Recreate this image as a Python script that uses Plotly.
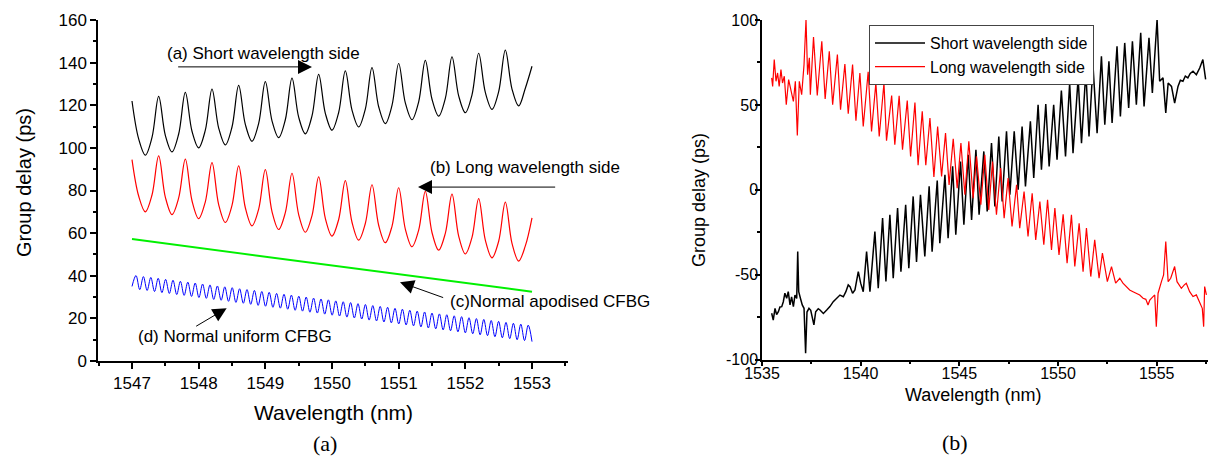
import plotly.graph_objects as go

# ---------------- Panel (a) data ----------------
wl_a = [1547.0, 1547.1, 1547.2, 1547.3, 1547.4, 1547.5, 1547.6, 1547.7, 1547.8, 1547.9,
        1548.0, 1548.1, 1548.2, 1548.3, 1548.4, 1548.5, 1548.6, 1548.7, 1548.8, 1548.9,
        1549.0, 1549.1, 1549.2, 1549.3, 1549.4, 1549.5, 1549.6, 1549.7, 1549.8, 1549.9,
        1550.0, 1550.1, 1550.2, 1550.3, 1550.4, 1550.5, 1550.6, 1550.7, 1550.8, 1550.9,
        1551.0, 1551.1, 1551.2, 1551.3, 1551.4, 1551.5, 1551.6, 1551.7, 1551.8, 1551.9,
        1552.0, 1552.1, 1552.2, 1552.3, 1552.4, 1552.5, 1552.6, 1552.7, 1552.8, 1552.9,
        1553.0]

short_a = [122.0, 104.2, 96.6, 104.9, 124.2, 105.9, 98.1, 106.5, 126.0, 107.8,
           100.0, 108.3, 127.6, 109.3, 101.4, 109.8, 129.3, 111.0, 103.1, 111.5,
           131.1, 112.7, 104.8, 113.2, 132.7, 114.4, 106.6, 115.0, 134.5, 116.2,
           108.3, 116.6, 136.1, 117.7, 109.8, 118.2, 137.7, 119.3, 111.4, 119.9,
           139.6, 121.1, 113.2, 121.6, 141.1, 122.8, 114.9, 123.2, 142.7, 124.4,
           116.5, 124.9, 144.4, 126.0, 118.1, 126.4, 145.9, 127.6, 119.7, 128.0,
           138.3]

long_a = [94.5, 77.4, 70.0, 77.9, 96.2, 76.9, 68.7, 76.5, 94.7, 75.2,
          66.8, 74.7, 93.1, 73.4, 65.0, 73.0, 91.6, 71.9, 63.4, 71.3,
          89.8, 70.1, 61.7, 69.6, 88.1, 68.7, 60.4, 68.2, 86.4, 66.9,
          58.6, 66.4, 84.6, 65.1, 56.7, 64.5, 82.7, 63.7, 55.5, 63.2,
          81.3, 61.9, 53.6, 61.4, 79.6, 60.3, 52.0, 59.9, 78.3, 58.6,
          50.2, 58.0, 76.2, 56.7, 48.4, 56.2, 74.5, 55.2, 46.9, 54.0,
          67.2]

apod_nm = [1547.0, 1553.0]
apod_ps = [57.2, 32.5]

uni_nm = [1547.0, 1547.060, 1547.116, 1547.171, 1547.227, 1547.282, 1547.338, 1547.393, 1547.449,
          1547.504, 1547.560, 1547.615, 1547.671, 1547.726, 1547.782, 1547.837, 1547.893,
          1547.948, 1548.004, 1548.059, 1548.115, 1548.170, 1548.226, 1548.281, 1548.337,
          1548.392, 1548.448, 1548.503, 1548.559, 1548.614, 1548.670, 1548.725, 1548.781,
          1548.836, 1548.892, 1548.947, 1549.003, 1549.058, 1549.114, 1549.169, 1549.225,
          1549.280, 1549.336, 1549.391, 1549.447, 1549.502, 1549.558, 1549.613, 1549.669,
          1549.724, 1549.780, 1549.835, 1549.891, 1549.946, 1550.002, 1550.057, 1550.113,
          1550.168, 1550.224, 1550.279, 1550.335, 1550.390, 1550.446, 1550.501, 1550.557,
          1550.612, 1550.668, 1550.723, 1550.779, 1550.834, 1550.890, 1550.945, 1551.001,
          1551.056, 1551.112, 1551.167, 1551.223, 1551.278, 1551.334, 1551.389, 1551.445,
          1551.500, 1551.556, 1551.611, 1551.667, 1551.722, 1551.778, 1551.833, 1551.889,
          1551.944, 1552.000, 1552.055, 1552.111, 1552.166, 1552.222, 1552.277, 1552.333,
          1552.388, 1552.444, 1552.499, 1552.555, 1552.610, 1552.666, 1552.721, 1552.777,
          1552.832, 1552.888, 1552.943, 1553.000]
uni_ps = [35.0, 40.1, 33.5, 39.6, 33.1, 39.2, 32.6, 38.8, 32.1,
          38.3, 31.7, 37.9, 31.2, 37.4, 30.8, 37.0, 30.3,
          36.6, 29.8, 36.1, 29.4, 35.7, 28.9, 35.2, 28.5,
          34.8, 28.0, 34.4, 27.5, 33.9, 27.1, 33.5, 26.6,
          33.1, 26.1, 32.6, 25.7, 32.2, 25.2, 31.7, 24.8,
          31.3, 24.3, 30.9, 23.8, 30.4, 23.4, 30.0, 22.9,
          29.5, 22.5, 29.1, 22.0, 28.7, 21.5, 28.2, 21.1,
          27.8, 20.6, 27.4, 20.2, 26.9, 19.7, 26.5, 19.2,
          26.0, 18.8, 25.6, 18.3, 25.2, 17.9, 24.7, 17.4,
          24.3, 16.9, 23.8, 16.5, 23.4, 16.0, 23.0, 15.5,
          22.5, 15.1, 22.1, 14.6, 21.7, 14.2, 21.2, 13.7,
          20.8, 13.2, 20.3, 12.8, 19.9, 12.3, 19.5, 11.9,
          19.0, 11.4, 18.6, 10.9, 18.1, 10.5, 17.7, 10.0,
          17.3, 9.6, 16.8, 9.1]

# ---------------- Panel (b) data ----------------
short_b_nm = [1535.49, 1535.57, 1535.66, 1535.74, 1535.83, 1535.91, 1536.00, 1536.08, 1536.16, 1536.25,
              1536.33, 1536.42, 1536.50, 1536.59, 1536.67, 1536.76, 1536.81, 1536.86, 1536.95, 1537.04,
              1537.13, 1537.21, 1537.28, 1537.38, 1537.47, 1537.55, 1537.63, 1537.72, 1537.85, 1537.94,
              1538.11, 1538.28, 1538.44, 1538.61, 1538.78, 1538.95, 1539.12, 1539.25, 1539.37, 1539.46,
              1539.59, 1539.71, 1539.88, 1540.00, 1540.13, 1540.30, 1540.47, 1540.72, 1540.89, 1541.11,
              1541.28, 1541.48, 1541.65, 1541.87, 1542.04, 1542.28, 1542.44, 1542.66, 1542.83, 1543.03,
              1543.25, 1543.47, 1543.62, 1543.88, 1544.01, 1544.27, 1544.43, 1544.66, 1544.82, 1545.06,
              1545.23, 1545.45, 1545.62, 1545.84, 1546.00, 1546.24, 1546.41, 1546.63, 1546.80, 1547.00,
              1547.17, 1547.39, 1547.56, 1547.78, 1547.98, 1548.18, 1548.35, 1548.60, 1548.77, 1548.99,
              1549.16, 1549.38, 1549.55, 1549.78, 1549.95, 1550.17, 1550.38, 1550.59, 1550.76, 1551.02,
              1551.19, 1551.41, 1551.57, 1551.77, 1551.98, 1552.20, 1552.37, 1552.58, 1552.74, 1552.99,
              1553.16, 1553.38, 1553.58, 1553.77, 1553.97, 1554.19, 1554.36, 1554.61, 1554.78, 1555.02,
              1555.15, 1555.32, 1555.46, 1555.58, 1555.75, 1555.91, 1556.08, 1556.20, 1556.33, 1556.45,
              1556.58, 1556.70, 1556.84, 1557.01, 1557.18, 1557.34, 1557.42, 1557.48]
short_b_ps = [-72.7, -76.7, -69.8, -73.5, -71.8, -69.0, -68.8, -65.9, -60.9, -63.9,
              -60.0, -67.8, -63.0, -68.8, -62.0, -64.0, -36.4, -60.0, -64.0, -67.8,
              -69.8, -96.3, -72.0, -69.8, -71.0, -74.7, -79.6, -71.8, -70.0, -70.8,
              -72.8, -70.8, -68.8, -65.9, -63.9, -62.0, -63.0, -60.0, -56.0, -57.0,
              -60.9, -59.0, -48.2, -55.0, -60.0, -36.4, -60.0, -24.6, -58.0, -16.7,
              -54.0, -14.7, -52.0, -10.8, -48.2, -8.8, -46.2, -3.9, -42.5, -2.9,
              -39.3, 2.0, -36.4, 5.5, -31.5, 8.8, -28.5, 13.8, -26.5, 16.7,
              -20.6, 20.6, -17.7, 23.6, -14.7, 22.6, -12.8, 27.5, -9.8, 31.4,
              -6.9, 34.4, -2.9, 34.4, 0.0, 37.3, 2.0, 40.3, 6.9, 50.1,
              11.8, 50.5, 13.8, 50.1, 17.7, 58.4, 19.7, 62.9, 21.6, 65.9,
              27.5, 69.8, 31.4, 73.7, 33.4, 78.6, 38.3, 75.7, 39.3, 84.5,
              43.2, 86.5, 48.2, 87.5, 50.1, 92.4, 49.1, 89.5, 57.0, 100.3,
              63.9, 65.9, 45.2, 62.9, 60.9, 51.1, 60.9, 64.5, 63.9, 67.0,
              65.9, 68.5, 69.8, 67.8, 71.7, 76.7, 70.0, 65.0]

long_b_nm = [1535.49, 1535.54, 1535.62, 1535.71, 1535.79, 1535.87, 1535.96, 1536.04, 1536.13, 1536.23,
             1536.35, 1536.47, 1536.59, 1536.69, 1536.79, 1536.89, 1537.01, 1537.13, 1537.23, 1537.31,
             1537.40, 1537.45, 1537.61, 1537.80, 1538.03, 1538.20, 1538.41, 1538.58, 1538.82, 1538.98,
             1539.20, 1539.37, 1539.59, 1539.76, 1539.96, 1540.13, 1540.38, 1540.55, 1540.77, 1540.94,
             1541.18, 1541.31, 1541.57, 1541.73, 1541.95, 1542.12, 1542.36, 1542.53, 1542.75, 1542.91,
             1543.12, 1543.30, 1543.51, 1543.71, 1543.90, 1544.10, 1544.30, 1544.48, 1544.69, 1544.89,
             1545.08, 1545.28, 1545.48, 1545.70, 1545.87, 1546.09, 1546.29, 1546.49, 1546.68, 1546.88,
             1547.09, 1547.27, 1547.47, 1547.67, 1547.90, 1548.06, 1548.28, 1548.48, 1548.69, 1548.87,
             1549.08, 1549.28, 1549.47, 1549.67, 1549.84, 1550.05, 1550.26, 1550.46, 1550.68, 1550.85,
             1551.07, 1551.27, 1551.44, 1551.66, 1551.86, 1552.08, 1552.25, 1552.50, 1552.71, 1552.92,
             1553.13, 1553.29, 1553.45, 1553.63, 1553.80, 1553.97, 1554.14, 1554.31, 1554.45, 1554.56,
             1554.65, 1554.73, 1554.90, 1554.98, 1555.07, 1555.24, 1555.35, 1555.46, 1555.58, 1555.71,
             1555.91, 1556.03, 1556.25, 1556.40, 1556.50, 1556.67, 1556.84, 1557.01, 1557.18, 1557.31,
             1557.38, 1557.43, 1557.52]
long_b_ps = [65.9, 60.9, 76.7, 63.9, 68.8, 60.9, 70.8, 62.9, 66.9, 50.1,
             64.9, 59.0, 52.1, 63.9, 32.0, 63.9, 56.0, 73.7, 100.3, 67.8,
             77.7, 56.0, 90.0, 55.5, 87.5, 53.5, 81.6, 50.1, 79.6, 47.2,
             74.1, 44.8, 73.7, 40.7, 68.8, 37.3, 69.5, 34.4, 62.9, 31.4,
             62.9, 28.9, 55.5, 26.5, 55.3, 23.6, 52.5, 19.7, 51.4, 14.5,
             46.2, 14.5, 42.3, 7.5, 37.3, 7.9, 33.4, 2.9, 30.1, 1.0,
             27.5, -2.9, 28.5, -4.9, 19.7, -8.8, 20.6, -11.8, 16.7, -14.7,
             12.8, -16.7, 6.9, -21.6, 2.9, -22.6, -1.0, -27.5, -2.0, -29.5,
             -6.9, -32.4, -5.9, -35.4, -10.8, -38.3, -14.5, -43.2, -14.7, -45.2,
             -19.7, -48.2, -22.6, -51.1, -29.5, -52.1, -37.3, -54.1, -45.2, -55.0,
             -52.1, -55.0, -57.0, -59.0, -60.0, -60.9, -62.0, -63.9, -64.5, -67.8,
             -65.0, -63.9, -61.9, -80.6, -60.9, -54.1, -50.1, -30.5, -54.1, -52.1,
             -45.2, -54.1, -58.0, -56.0, -55.0, -60.0, -62.9, -61.9, -65.9, -69.8,
             -80.6, -57.0, -61.9]

legend_names = ["Short wavelength side", "Long wavelength side"]

# tick labels of panel (b) y axis (plain hyphen-minus as in the original)
b_ytick_vals = [-100, -50, 0, 50, 100]
b_ytick_text = ["-100", "-50", "0", "50", "100"]

# ---------------- Figure ----------------
FONT = "Liberation Sans, Arial, sans-serif"
SERIF = "Liberation Serif, Times New Roman, serif"

fig = go.Figure()

# Panel (a)
fig.add_trace(go.Scatter(x=wl_a, y=short_a, mode="lines", line=dict(color="black", width=1.2, shape="spline"),
                         xaxis="x", yaxis="y", showlegend=False))
fig.add_trace(go.Scatter(x=wl_a, y=long_a, mode="lines", line=dict(color="#ff0000", width=1.2, shape="spline"),
                         xaxis="x", yaxis="y", showlegend=False))
fig.add_trace(go.Scatter(x=apod_nm, y=apod_ps, mode="lines", line=dict(color="#00f000", width=2),
                         xaxis="x", yaxis="y", showlegend=False))
fig.add_trace(go.Scatter(x=uni_nm, y=uni_ps, mode="lines", line=dict(color="#0000ff", width=1, shape="spline"),
                         xaxis="x", yaxis="y", showlegend=False))

# Panel (b)
fig.add_trace(go.Scatter(x=short_b_nm, y=short_b_ps, mode="lines", name=legend_names[0],
                         line=dict(color="black", width=1.5), xaxis="x2", yaxis="y2"))
fig.add_trace(go.Scatter(x=long_b_nm, y=long_b_ps, mode="lines", name=legend_names[1],
                         line=dict(color="#ff0000", width=1.2), xaxis="x2", yaxis="y2"))

axis_common = dict(showline=True, linecolor="black", linewidth=1.5, ticks="outside", ticklen=6,
                   tickwidth=1.5, tickcolor="black", showgrid=False, zeroline=False, automargin=False,
                   tickfont=dict(family=FONT, size=17, color="black"))

fig.update_layout(
    template="none",
    width=1212, height=460, margin=dict(l=0, r=0, t=0, b=0, pad=0, autoexpand=False),
    paper_bgcolor="white", plot_bgcolor="white",
    font=dict(family=FONT, color="black"),
    xaxis=dict(axis_common, domain=[98 / 1212, 568 / 1212], range=[1546.49, 1553.54],
               dtick=1, tick0=1547, anchor="y",
               minor=dict(ticks="outside", dtick=0.5, tick0=1546.5, ticklen=3, tickwidth=1.5, tickcolor="black")),
    yaxis=dict(axis_common, domain=[1 - 361 / 460, 1 - 20 / 460], range=[0, 160], dtick=20, anchor="x",
               minor=dict(ticks="outside", dtick=10, ticklen=3, tickwidth=1.5, tickcolor="black")),
    xaxis2=dict(axis_common, domain=[762 / 1212, 1208 / 1212], range=[1535, 1557.6], dtick=5, tick0=1535,
                anchor="y2", tickfont=dict(family=FONT, size=16, color="black"), ticklen=5,
                ticklabelstandoff=-7,
                minor=dict(ticks="outside", dtick=2.5, tick0=1535, ticklen=3, tickwidth=1.5, tickcolor="black")),
    yaxis2=dict(axis_common, domain=[1 - 359.6 / 460, 1 - 20 / 460], range=[-100, 100], anchor="x2",
                tickmode="array", tickvals=b_ytick_vals, ticktext=b_ytick_text,
                tickfont=dict(family=FONT, size=16, color="black"), ticklen=5, ticklabelstandoff=-6,
                minor=dict(ticks="outside", dtick=25, tick0=0, ticklen=3, tickwidth=1.5, tickcolor="black")),
    legend=dict(x=869 / 1212, y=1 - 25 / 460, xanchor="left", yanchor="top",
                bordercolor="#444444", borderwidth=1, bgcolor="white", itemwidth=50,
                font=dict(family=FONT, size=16, color="black"), tracegroupgap=0),
)

ann = []
ctr = dict(xanchor="center", yanchor="middle", xref="paper", yref="paper", showarrow=False)
# axis titles
ann.append(dict(ctr, text="Group delay (ps)", x=24 / 1212, y=1 - 183 / 460,
                textangle=-90, font=dict(family=FONT, size=20)))
ann.append(dict(ctr, text="Wavelength (nm)", x=333 / 1212, y=1 - 412 / 460,
                font=dict(family=FONT, size=21)))
ann.append(dict(ctr, text="Group delay (ps)", x=699 / 1212, y=1 - 200 / 460,
                textangle=-90, font=dict(family=FONT, size=18)))
ann.append(dict(ctr, text="Wavelength (nm)", x=973 / 1212, y=1 - 395 / 460,
                font=dict(family=FONT, size=18)))
# panel labels
ann.append(dict(ctr, text="(a)", x=325 / 1212, y=1 - 443 / 460, font=dict(family=SERIF, size=22)))
ann.append(dict(ctr, text="(b)", x=955 / 1212, y=1 - 442 / 460, font=dict(family=SERIF, size=22)))

# panel (a) labels
lab_font = dict(family=FONT, size=17, color="black")
lab = dict(xref="x", yref="y", xanchor="left", yanchor="middle", showarrow=False, font=lab_font)
ann.append(dict(lab, text="(a) Short wavelength side", x=1547.49, y=144.4))
ann.append(dict(lab, text="(b) Long wavelength side", x=1551.44, y=91.0))
ann.append(dict(lab, text="(c)Normal apodised CFBG", x=1551.74, y=27.7))
ann.append(dict(lab, text="(d) Normal uniform CFBG", x=1547.06, y=11.3))
# arrows (head at x,y; tail at ax,ay)
arrows = [((1549.70, 138.0), (1547.67, 138.0)),
          ((1551.29, 81.6), (1553.37, 81.6)),
          ((1551.02, 37.0), (1551.69, 29.5)),
          ((1548.42, 24.8), (1547.94, 15.9))]
for (hx, hy), (tx, ty) in arrows:
    ann.append(dict(text="", x=hx, y=hy, ax=tx, ay=ty, xref="x", yref="y", axref="x", ayref="y",
                    showarrow=True, arrowhead=2, arrowsize=2.8, arrowwidth=1, arrowcolor="black"))

fig.update_layout(annotations=ann)
fig.write_html("out.html")
